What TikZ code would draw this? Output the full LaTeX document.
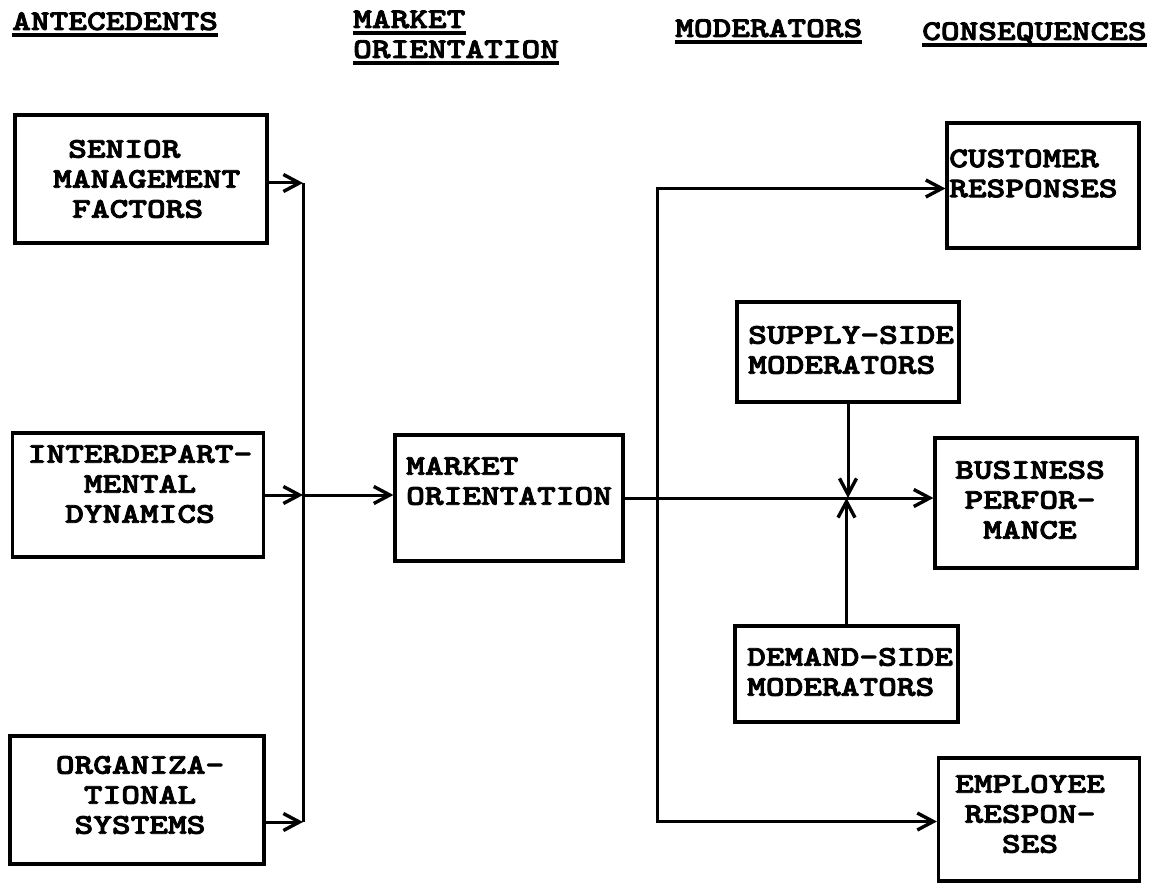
\documentclass[tikz,border=0pt]{standalone}
\usepackage{fontspec}
\usetikzlibrary{arrows.meta}
\newfontfamily\tw{lmmonolt10-bold.otf}[FakeStretch=1.25,FakeBold=3]
\begin{document}
\begin{tikzpicture}[x=1pt,y=-1pt,
  box/.style={draw,line width=3.2pt,inner sep=0pt},
  txt/.style={font=\tw\fontsize{28.5}{30}\selectfont,inner sep=0pt},
  conn/.style={line width=3pt},
  arr/.style={line width=3pt,-{Straight Barb[length=16pt,width=17pt,line width=3.4pt]}},
  uline/.style={line width=4pt}]
\useasboundingbox (0,0) rectangle (1161,885);
% headers
\node[txt,anchor=base west] (h1) at (12,30) {ANTECEDENTS};
\node[txt,anchor=base west] (h2) at (353,28) {MARKET};
\node[txt,anchor=base west] (h3) at (353,58) {ORIENTATION};
\node[txt,anchor=base west] (h4) at (675,37) {MODERATORS};
\node[txt,anchor=base west] (h5) at (922,40) {CONSEQUENCES};
\foreach \h in {h1,h2,h3,h4,h5}
  \draw[uline] ([yshift=-5pt]\h.base west) -- ([yshift=-5pt]\h.base east);
% boxes
\node[box,minimum width=252pt,minimum height=128pt] (sen) at (141,179) {};
\node[txt,align=left,anchor=west] at (53,179) {\hspace*{15pt}SENIOR\\MANAGEMENT\\\hspace*{19pt}FACTORS};
\node[box,minimum width=251pt,minimum height=124pt] (inter) at (138,495) {};
\node[txt,align=center] at (140,484) {INTERDEPART-\\MENTAL\\DYNAMICS};
\node[box,minimum width=254pt,minimum height=128pt] (org) at (137,800) {};
\node[txt,align=center] at (140,795) {ORGANIZA-\\TIONAL\\SYSTEMS};
\node[box,minimum width=228pt,minimum height=126pt] (mo) at (509,498) {};
\node[txt,align=left,anchor=west] at (406,481) {MARKET\\ORIENTATION};
\node[box,minimum width=192pt,minimum height=125pt] (cust) at (1043,185.5) {};
\node[txt,align=left,anchor=west] at (949,173.5) {CUSTOMER\\RESPONSES};
\node[box,minimum width=222pt,minimum height=100pt] (sup) at (848,352) {};
\node[txt,align=left,anchor=west] at (748,350) {SUPPLY-SIDE\\MODERATORS};
\node[box,minimum width=202pt,minimum height=130pt] (bus) at (1036,503) {};
\node[txt,align=center] at (1030,500) {BUSINESS\\PERFOR-\\MANCE};
\node[box,minimum width=223pt,minimum height=96pt] (dem) at (846.5,674) {};
\node[txt,align=left,anchor=west] at (747,672) {DEMAND-SIDE\\MODERATORS};
\node[box,minimum width=201pt,minimum height=123pt] (emp) at (1039,819.5) {};
\node[txt,align=center] at (1030,814) {EMPLOYEE\\RESPON-\\SES};
% connectors
\coordinate (vx) at (303,0);
\coordinate (a1) at ([yshift=-4pt]sen.east);
\coordinate (a3) at ([yshift=-22pt]org.east);
\draw[arr] (a1) -- (a1 -| vx);
\draw[arr] (inter.east) -- (inter.east -| vx);
\draw[arr] (a3) -- (a3 -| vx);
\draw[conn] (a1 -| vx) -- (a3 -| vx);
\draw[arr] (inter.east -| vx) -- (mo.west |- inter.east);
\coordinate (j) at (657,498);
\coordinate (xc) at (849,498);
\draw[arr] (mo.east) -- (bus.west |- mo.east);
\draw[arr] (j) |- ([yshift=-3pt]cust.west);
\draw[arr] (j) |- ([yshift=-2pt]emp.west);
\draw[arr] (sup.south) -- (sup.south |- xc);
\draw[arr] (dem.north) -- (dem.north |- xc);
\end{tikzpicture}
\end{document}
